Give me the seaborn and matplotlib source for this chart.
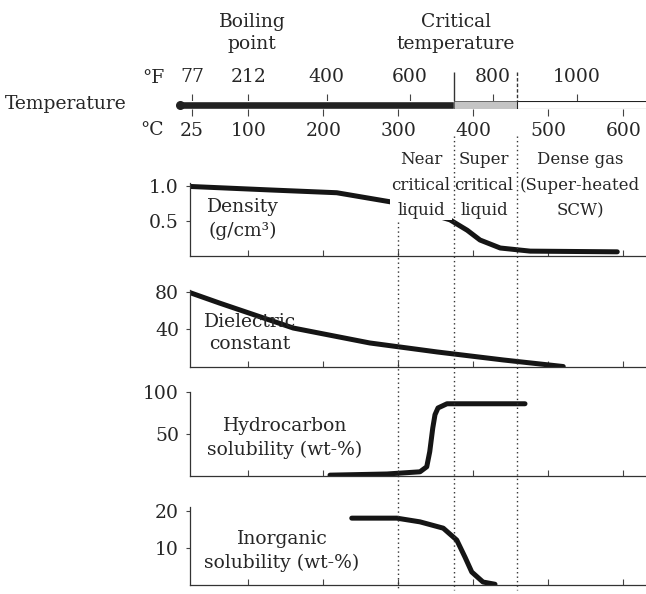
import numpy as np
import pandas as pd
import seaborn as sns
import matplotlib.pyplot as plt

# temperature scale (deg C below the bar, deg F above)
c_ticks = [25, 100, 200, 300, 400, 500, 600]
f_ticks = [77, 212, 400, 600, 800, 1000]
bar_start, t_near, t_crit, t_dense, bar_end = 9, 300, 374, 458, 645

# property curves, temperature in deg C
dens_T = [23, 129, 218, 289, 369, 392, 409, 436, 476, 592]
dens_v = [1.0, 0.95, 0.91, 0.78, 0.52, 0.37, 0.23, 0.115, 0.07, 0.06]
diel_T = [23, 62, 160, 262, 352, 440, 520]
diel_v = [79, 68, 41.5, 25.6, 16, 7.5, 0.5]
hc_T = [209, 285, 329, 338, 342, 346, 349, 353, 365, 469]
hc_v = [1, 2.4, 5, 11, 29, 57, 73, 81, 86, 86]
inorg_T = [238, 298, 329, 360, 378, 389, 398, 413, 429]
inorg_v = [18, 18, 17, 15.3, 12.1, 7.5, 3.5, 0.8, 0.2]

panel_labels = ['Density\n(g/cm³)', 'Dielectric\nconstant',
                'Hydrocarbon\nsolubility (wt-%)', 'Inorganic\nsolubility (wt-%)']
panel_yticks = [[0.5, 1.0], [40, 80], [50, 100], [10, 20]]
panel_yticklabels = [['0.5', '1.0'], ['40', '80'], ['50', '100'], ['10', '20']]
panel_ylim = [(0, 1.05), (0, 82), (0, 100), (0, 21)]
region_labels = ['Near\ncritical\nliquid', 'Super\ncritical\nliquid',
                 'Dense gas\n(Super-heated\nSCW)']

#layout helpers (pixels)
W, H = 646, 594
def T_at(px):
    return 25 + (px - 192) / 0.75
def rect(l, t, r, b):
    return [l / W, 1 - b / H, (r - l) / W, (b - t) / H]

sns.set_theme(style='white')
plt.rcParams['font.family'] = ['DejaVu Serif']
FS = 13.5
ink = '#151515'

fig = plt.figure(figsize=(W / 100, H / 100), dpi=100)

#property panels
curves = [(dens_T, dens_v), (diel_T, diel_v), (hc_T, hc_v), (inorg_T, inorg_v)]
panel_px = [(183, 256), (290, 367), (392, 476), (507, 585)]
text_px = [(243, 219), (250, 333), (285, 438), (282, 551)]
for i, ((T, v), (top, bot)) in enumerate(zip(curves, panel_px)):
    ax = fig.add_axes(rect(190, top, W, bot))
    df = pd.DataFrame({'T': T, 'v': v})
    sns.lineplot(data=df, x='T', y='v', ax=ax, color=ink, lw=3.6, sort=False)
    ax.set_xlim(T_at(190), T_at(W))
    ax.set_ylim(*panel_ylim[i])
    ax.set_xlabel('')
    ax.set_ylabel('')
    ax.set_xticks(c_ticks[1:])
    ax.set_yticks(panel_yticks[i])
    ax.set_yticklabels(panel_yticklabels[i])
    ax.tick_params(axis='x', bottom=True, direction='in', length=4, width=0.8,
                   color='#444444', labelbottom=False)
    ax.tick_params(axis='y', left=True, direction='out', length=3, width=0.8,
                   color='#444444', labelsize=FS, pad=5)
    sns.despine(ax=ax)
    for s in ['left', 'bottom']:
        ax.spines[s].set_color('#333333')
        ax.spines[s].set_linewidth(0.9)
    ax.patch.set_alpha(0)

#temperature bar
axb = fig.add_axes(rect(0, 101, W, 109))
axb.set_xlim(T_at(0), T_at(W))
axb.set_ylim(0, 1)
axb.barh(0.5, t_crit - bar_start, left=bar_start, height=1, color='#222222')
axb.scatter([bar_start], [0.5], s=30, color='#222222', clip_on=False, zorder=3)
axb.barh(0.5, t_dense - t_crit, left=t_crit, height=1, color='#c4c4c4',
         edgecolor='#555555', lw=0.6)
axb.barh(0.5, bar_end - t_dense, left=t_dense, height=1, color='white',
         edgecolor='#222222', lw=0.8)
axb.set_yticks([])
axb.set_xticks(c_ticks)
axb.set_xticklabels([str(c) for c in c_ticks])
axb.tick_params(axis='x', bottom=True, direction='out', length=5, width=0.8,
                color='#444444', labelsize=FS, pad=4)
for s in axb.spines.values():
    s.set_visible(False)
sec = axb.secondary_xaxis('top', functions=(lambda c: c * 9 / 5 + 32,
                                             lambda f: (f - 32) * 5 / 9))
sec.set_xticks(f_ticks)
sec.set_xticklabels([str(f) for f in f_ticks])
sec.tick_params(axis='x', top=True, direction='out', length=5, width=0.8,
                color='#444444', labelsize=FS, pad=6)
for s in sec.spines.values():
    s.set_visible(False)

#overlay for region lines and labels
ov = fig.add_axes([0, 0, 1, 1], zorder=5)
ov.set_xlim(T_at(0), T_at(W))
ov.set_ylim(H, 0)
ov.axis('off')
ov.patch.set_alpha(0)

dot = (0, (1, 2.2))
ov.vlines([t_crit, t_dense], 136, 590, colors='#333333', lw=1, linestyles=[dot])
ov.vlines(t_near, 222, 590, colors='#333333', lw=1, linestyles=[dot])
ov.vlines(t_crit, 72, 101, colors='#333333', lw=1)
ov.vlines(t_dense, 72, 101, colors='#333333', lw=1, linestyles=[(0, (2.5, 1.5))])

ov.text(T_at(5), 104, 'Temperature', ha='left', va='center', fontsize=FS)
ov.text(T_at(164), 78, '°F', ha='right', va='center', fontsize=FS)
ov.text(T_at(164), 130, '°C', ha='right', va='center', fontsize=FS)
ov.text(T_at(252), 33, 'Boiling\npoint', ha='center', va='center',
        fontsize=FS, linespacing=1.3)
ov.text(T_at(456), 33, 'Critical\ntemperature', ha='center', va='center',
        fontsize=FS, linespacing=1.3)

for lab, (px, py) in zip(panel_labels, text_px):
    ov.text(T_at(px), py, lab, ha='center', va='center', fontsize=FS,
            linespacing=1.35)

# only the near-critical block masks what lies behind it
for k, (lab, px) in enumerate(zip(region_labels, [421, 484, 580])):
    box = dict(facecolor='white', edgecolor='none', pad=1) if k == 0 else None
    ov.text(T_at(px), 185, lab, ha='center', va='center', fontsize=12,
            linespacing=1.65, zorder=6, bbox=box)

fig.savefig('out.png', dpi=100)
